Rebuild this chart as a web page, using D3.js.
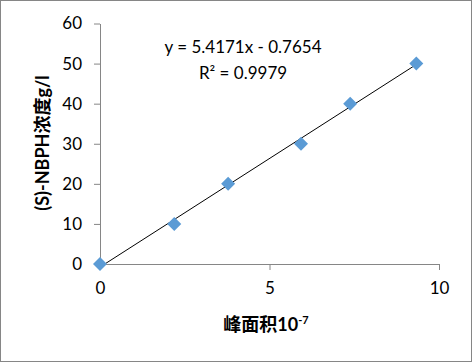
<!DOCTYPE html>
<html><head><meta charset="utf-8">
<script src="https://cdn.jsdelivr.net/npm/d3@7"></script>
<style>body{margin:0;background:#fff}svg{display:block}</style>
</head><body>
<script>
const peakArea = [0, 2.19, 3.78, 5.93, 7.38, 9.33];
const concentration = [0, 10, 20, 30, 40, 50];
const xTicks = [0, 5, 10];
const yTicks = [0, 10, 20, 30, 40, 50, 60];
const slope = 5.4171, intercept = -0.7654;
const eqText = "y = 5.4171x - 0.7654";
const r2Text = "R² = 0.9979";

const W = 473, H = 363;
const svg = d3.select("body").append("svg").attr("width", W).attr("height", H);
svg.append("rect").attr("x", 0.5).attr("y", 0.5).attr("width", W - 2).attr("height", H - 2)
  .attr("fill", "#fff").attr("stroke", "#868686").attr("stroke-width", 1);

const x = d3.scaleLinear().domain([0, 10]).range([100, 439]);
const y = d3.scaleLinear().domain([0, 60]).range([264, 23.5]);
const font = "Lato, 'Open Sans', sans-serif";

const xAxis = svg.append("g").attr("transform", "translate(0,264)")
  .call(d3.axisBottom(x).tickValues(xTicks).tickSize(6).tickSizeOuter(0).tickPadding(12));
const yAxis = svg.append("g").attr("transform", "translate(100,0)")
  .call(d3.axisLeft(y).tickValues(yTicks).tickSize(6).tickSizeOuter(0).tickPadding(12));
[xAxis, yAxis].forEach(g => {
  g.selectAll("path,line").attr("stroke", "#868686");
  g.selectAll("text").attr("fill", "#000").style("font-family", font).style("font-size", "17px");
});

const x0 = d3.min(peakArea), x1 = d3.max(peakArea);
svg.append("line").attr("x1", x(x0)).attr("y1", y(slope * x0 + intercept))
  .attr("x2", x(x1)).attr("y2", y(slope * x1 + intercept))
  .attr("stroke", "#000").attr("stroke-width", 1);

svg.append("g").selectAll("path").data(peakArea).join("path")
  .attr("d", d3.symbol(d3.symbolSquare, 98))
  .attr("transform", (d, i) => `translate(${x(d)},${y(concentration[i])}) rotate(45)`)
  .attr("fill", "#5B9BD5");

svg.append("text").attr("x", 243).attr("y", 53).attr("text-anchor", "middle")
  .style("font-family", font).style("font-size", "17px").text(eqText);
svg.append("text").attr("x", 243).attr("y", 79).attr("text-anchor", "middle")
  .style("font-family", font).style("font-size", "17px").text(r2Text);

const cjk = "'Noto Sans CJK SC', sans-serif";
const xt = svg.append("text").attr("x", 266).attr("y", 331).attr("text-anchor", "middle")
  .style("font-family", cjk).style("font-size", "18px").style("font-weight", "bold");
xt.append("tspan").text("峰面积");
xt.append("tspan").style("font-family", font).text("10");
xt.append("tspan").style("font-family", font).style("font-size", "11px").attr("dy", -7).text("-7");

const yt = svg.append("text").attr("transform", "translate(49,143) rotate(-90)").attr("text-anchor", "middle")
  .style("font-family", cjk).style("font-size", "18px").style("font-weight", "bold");
yt.append("tspan").style("font-family", font).text("(S)-NBPH");
yt.append("tspan").text("浓度");
yt.append("tspan").style("font-family", font).text("g/l");
</script>
</body></html>
